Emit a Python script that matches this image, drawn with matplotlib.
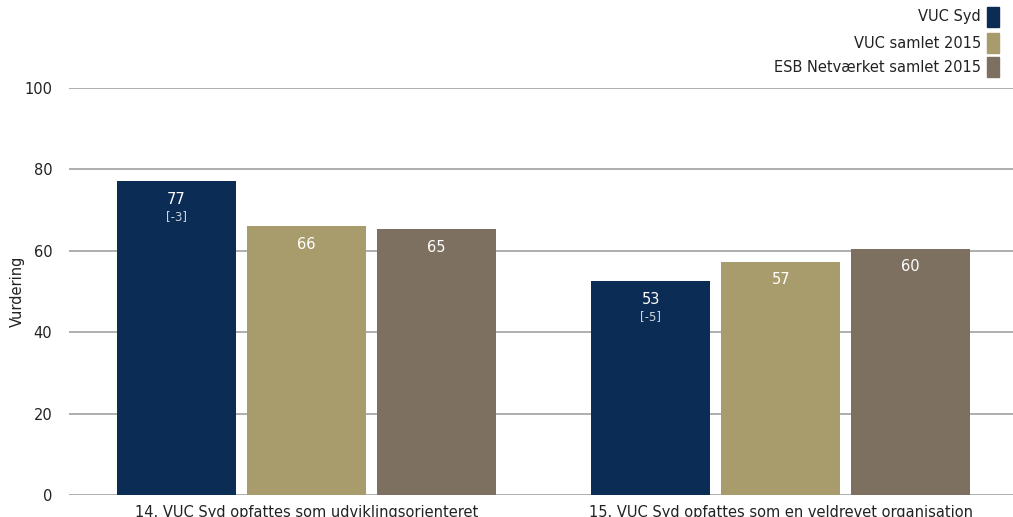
import matplotlib
matplotlib.use("Agg")
import matplotlib.pyplot as plt
from matplotlib.patches import Rectangle
import numpy as np

plt.rcParams["font.family"] = ["DejaVu Sans"]

categories = ["14. VUC Syd opfattes som udviklingsorienteret",
              "15. VUC Syd opfattes som en veldrevet organisation"]
series_names = ["VUC Syd", "VUC samlet 2015", "ESB Netværket samlet 2015"]
vuc_syd = [77.1, 52.6]
vuc_samlet = [66.1, 57.3]
esb = [65.3, 60.5]
diffs = ["[-3]", "[-5]"]
colors = ["#0b2d55", "#a99c6c", "#7d7060"]

W, H = 1013, 517
fig = plt.figure(figsize=(W / 100, H / 100), dpi=100)
ax = fig.add_axes([69 / W, (H - 495) / H, (W - 69) / W, (495 - 88) / H])

x = np.arange(len(categories))
off = 130 / 474
bw = 119 / 474
all_series = [vuc_syd, vuc_samlet, esb]
for i, (vals, c) in enumerate(zip(all_series, colors)):
    pos = x + (i - 1) * off
    ax.bar(pos, vals, width=bw, color=c, zorder=2)
    for j, v in enumerate(vals):
        ax.text(pos[j], v - 2.6, f"{round(v):d}", ha="center", va="top",
                color="white", fontsize=10.5, zorder=3)
        if i == 0:
            ax.text(pos[j], v - 7.2, diffs[j], ha="center", va="top",
                    color="#d0d4dc", fontsize=8.5, zorder=3)

ax.set_xlim(-0.501, 1.49)
ax.set_ylim(0, 100)
ax.set_yticks([0, 20, 40, 60, 80, 100])
ax.yaxis.grid(True, color="#999999", linewidth=1.1, zorder=0)
ax.tick_params(axis="y", length=0, pad=12, labelsize=10.5, labelcolor="#222222")
ax.set_xticks(x)
ax.set_xticklabels(categories, fontsize=10.5, color="#222222")
ax.tick_params(axis="x", length=0, pad=7)
for s in ax.spines.values():
    s.set_visible(False)
ax.set_axisbelow(True)

fig.text(17 / W, 1 - 291 / H, "Vurdering", rotation=90, ha="center",
         va="center", fontsize=10.5, color="#222222")

# legend
ys = [17, 43, 67]
for name, c, yy in zip(series_names, colors, ys):
    fig.text(981 / W, 1 - yy / H, name, ha="right", va="center", fontsize=10.5,
             color="#222222")
    fig.add_artist(Rectangle((987 / W, 1 - (yy + 10) / H), 12 / W, 20 / H,
                             transform=fig.transFigure, color=c))

fig.savefig("out.png", dpi=100)
